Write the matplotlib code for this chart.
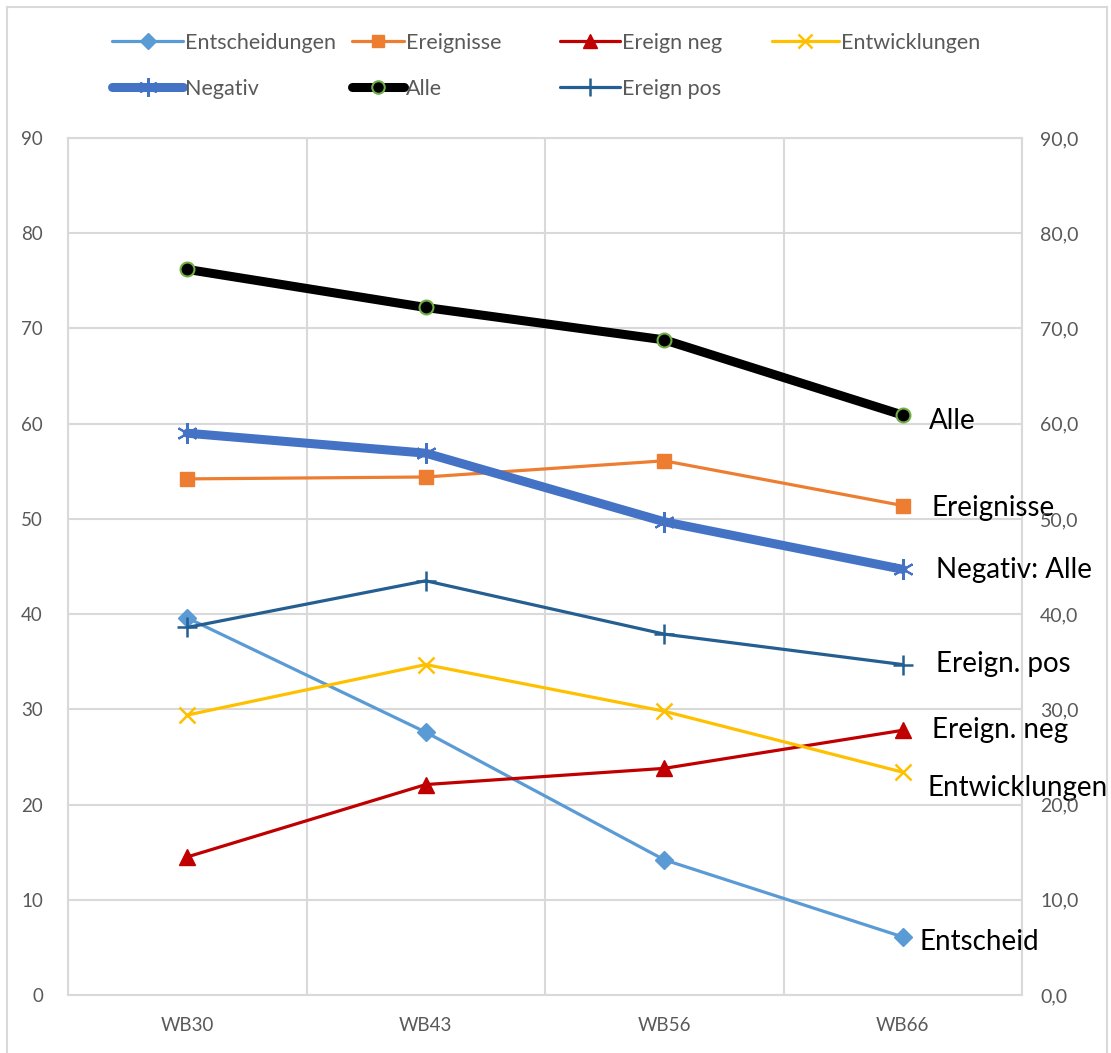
import matplotlib
matplotlib.use("Agg")
import matplotlib.pyplot as plt
from matplotlib.lines import Line2D

plt.rcParams['font.family'] = ['Lato', 'DejaVu Sans']

# data
waves = ['WB30', 'WB43', 'WB56', 'WB66']
entscheidungen = [39.6, 27.6, 14.2, 6.1]
ereignisse = [54.2, 54.4, 56.1, 51.4]
ereign_neg = [14.5, 22.1, 23.8, 27.8]
entwicklungen = [29.4, 34.7, 29.8, 23.4]
negativ = [59.0, 56.9, 49.7, 44.7]
alle = [76.2, 72.2, 68.8, 60.9]
ereign_pos = [38.6, 43.5, 37.9, 34.7]

end_labels = ['Entscheid', 'Ereignisse', 'Ereign. neg', 'Entwicklungen',
              'Negativ: Alle', 'Alle', 'Ereign. pos']

W, H = 1111, 1053
fig = plt.figure(figsize=(W / 100, H / 100), dpi=100)
ax = fig.add_axes([68 / W, 1 - 995 / H, (1022 - 68) / W, (995 - 138) / H])

# outer chart frame
grey = '#D9D9D9'
fig.add_artist(Line2D([7 / W, 7 / W], [0, 1 - 7 / H], color=grey, lw=1.5))
fig.add_artist(Line2D([7 / W, 1107 / W], [1 - 7 / H, 1 - 7 / H], color=grey, lw=1.5))
fig.add_artist(Line2D([1107 / W, 1107 / W], [0, 1 - 7 / H], color=grey, lw=1.5))

x = list(range(len(waves)))

series = [
    # label, values, color, lw, marker, ms, face, edge, mew, end offset (px)
    ('Entscheidungen', entscheidungen, '#5B9BD5', 2.3, 'D', 9, '#5B9BD5', '#5B9BD5', 1, (17, -5)),
    ('Ereignisse', ereignisse, '#ED7D31', 2.3, 's', 10, '#ED7D31', '#ED7D31', 1, (29, -2)),
    ('Ereign neg', ereign_neg, '#C00000', 2.3, '^', 11, '#C00000', '#C00000', 1, (29, 0)),
    ('Entwicklungen', entwicklungen, '#FFC000', 2.3, 'x', 11, '#FFC000', '#FFC000', 1.8, (25, -16)),
    ('Negativ', negativ, '#4472C4', 6.5, (6, 2, 0), 15, '#4472C4', '#4472C4', 1.5, (33, -1)),
    ('Alle', alle, '#000000', 6.5, 'o', 10, '#000000', '#70AD47', 1.5, (26, -6)),
    ('Ereign pos', ereign_pos, '#255E91', 2.3, '+', 15, '#255E91', '#255E91', 1.8, (33, 1)),
]

handles = {}
for (label, vals, col, lw, mk, ms, fc, ec, mew, off), txt in zip(series, end_labels):
    h, = ax.plot(x, vals, color=col, lw=lw, marker=mk, ms=ms, mfc=fc, mec=ec,
                 mew=mew, label=label, zorder=3, solid_capstyle='round')
    handles[label] = h
    ax.annotate(txt, xy=(x[-1], vals[-1]), xytext=off, textcoords='offset pixels',
                ha='left', va='center', fontsize=20, color='black',
                annotation_clip=False, zorder=5)

ax.set_xlim(-0.5, len(waves) - 0.5)
ax.set_ylim(0, 90)
ax.set_yticks(range(0, 91, 10))
ax.set_xticks(x)
ax.set_xticklabels(waves)
ax.set_xticks([i - 0.5 for i in range(len(waves) + 1)], minor=True)
ax.grid(True, axis='y', color=grey, lw=1.5)
ax.grid(True, axis='x', which='minor', color=grey, lw=1.5)
ax.set_axisbelow(True)
for s in ax.spines.values():
    s.set_color(grey)
    s.set_linewidth(1.5)
ax.tick_params(axis='both', which='both', length=0, colors='#595959')
ax.tick_params(axis='y', labelsize=13.5, pad=18)
ax.tick_params(axis='x', labelsize=13.5, pad=16)

ax2 = ax.twinx()
ax2.set_ylim(0, 90)
ax2.set_yticks(range(0, 91, 10))
ax2.set_yticklabels(['%d,0' % v for v in range(0, 91, 10)])
ax2.tick_params(axis='y', length=0, colors='#595959', labelsize=14, pad=13)
for s in ax2.spines.values():
    s.set_visible(False)

# legend: one small legend per column so the columns sit where Excel put them
columns = [
    (['Entscheidungen', 'Negativ'], 112, 3.3),
    (['Ereignisse', 'Alle'], 352, 2.4),
    (['Ereign neg', 'Ereign pos'], 560, 2.8),
    (['Entwicklungen'], 772, 3.1),
]
for names, left, hl in columns:
    leg = fig.legend([handles[k] for k in names], names, loc='upper left',
                     bbox_to_anchor=(left / W, 1 - 33 / H), borderaxespad=0,
                     borderpad=0, frameon=False, fontsize=15.5,
                     handlelength=hl, handletextpad=0.1,
                     labelspacing=1.2, markerscale=0.9)
    for t in leg.get_texts():
        t.set_color('#595959')

fig.savefig('out.png', dpi=100)
